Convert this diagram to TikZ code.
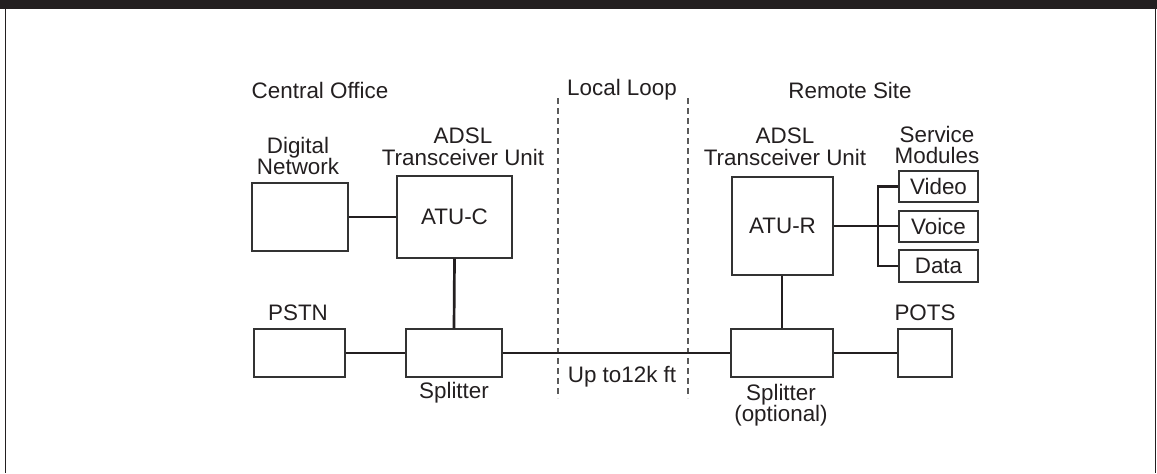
\documentclass[tikz,border=0pt]{standalone}
\usepackage{fontspec}
\setmainfont{Liberation Sans}
\usetikzlibrary{fit}
\definecolor{ink}{HTML}{231F20}
\definecolor{boxline}{HTML}{333333}
\definecolor{dashgray}{HTML}{5A5A5A}
\begin{document}
\begin{tikzpicture}[x=0.5pt,y=-0.5pt,
  every node/.style={text=ink,font=\fontsize{11.2}{10.8}\selectfont},
  box/.style={draw=boxline,line width=0.7pt,fill=white,inner sep=0pt,rectangle},
  wire/.style={draw=ink,line width=1.35pt},
  loopline/.style={draw=dashgray,line width=0.6pt,dash pattern=on 3pt off 2pt},
  lbl/.style={align=center,inner sep=0pt}]
\useasboundingbox (0,0) rectangle (1157,473);
% frame
\fill[ink] (0,0) rectangle (1157,9);
\draw[ink,line width=0.75pt] (5.5,9) -- (5.5,473);
\draw[ink,line width=0.75pt] (1155.5,9) -- (1155.5,473);
% dashed loop boundaries
\coordinate (ll1) at (558,98); \coordinate (ll2) at (558,398);
\coordinate (lr1) at (688,98); \coordinate (lr2) at (688,398);
\draw[loopline] (ll1) -- (ll2);
\draw[loopline] (lr1) -- (lr2);
% headings
\node[lbl] (hco) at (320,90) {Central Office};
\node[lbl] (hll) at (622,90) {Local Loop};
\node[lbl] (hrs) at (850,90) {Remote Site};
% boxes
\node[box,fit={(252,183) (348,251)}] (dn) {};
\node[box,fit={(397,176) (512,258)}] (atuc) {};
\node[lbl] (atuct) at (atuc.center) {ATU-C};
\node[box,fit={(254,329) (345,377)}] (pstn) {};
\node[box,fit={(406,329) (502,377)}] (splL) {};
\node[box,fit={(732,177) (833,275)}] (atur) {};
\node[lbl] (aturt) at (atur.center) {ATU-R};
\node[box,fit={(899,171) (978,202)}] (video) {};
\node[lbl] (videot) at (video.center) {Video};
\node[box,fit={(899,211) (978,242)}] (voice) {};
\node[lbl] (voicet) at (voice.center) {Voice};
\node[box,fit={(899,250) (978,282)}] (data) {};
\node[lbl] (datat) at (data.center) {Data};
\node[box,fit={(731,329) (833,377)}] (splR) {};
\node[box,fit={(898,329) (952,377)}] (pots) {};
% labels
\node[lbl] (ldn) at (298,156) {Digital\\Network};
\node[lbl] (latuc) at (463,147) {ADSL\\Transceiver Unit};
\node[lbl] (latur) at (785,147) {ADSL\\Transceiver Unit};
\node[lbl] (lsm) at (937,145) {Service\\Modules};
\node[lbl] (lpstn) at (298,313) {PSTN};
\node[lbl] (lpots) at (925,313) {POTS};
\node[lbl] (lsplL) at (454,393) {Splitter};
\node[lbl] (lsplR) at (781,405) {Splitter\\(optional)};
\node[lbl] (lup) at (622,377) {Up to12k ft};
% wires
\draw[wire] (dn.east) -- (atuc.west);
\draw[wire] (atuc.south) -- (splL.north);
\draw[wire] (pstn.east) -- (pstn.east -| splL.west);
\draw[wire] (splL.east) -- (splL.east -| splR.west);
\draw[wire] (atur.south -| splR.north) -- (splR.north);
\draw[wire] (splR.east) -- (pots.west);
\coordinate (bus) at (878,226);
\draw[wire] (atur.east) -- (atur.east -| voice.west);
\draw[wire] (video.west) -| (bus) |- (data.west);
\end{tikzpicture}
\end{document}
